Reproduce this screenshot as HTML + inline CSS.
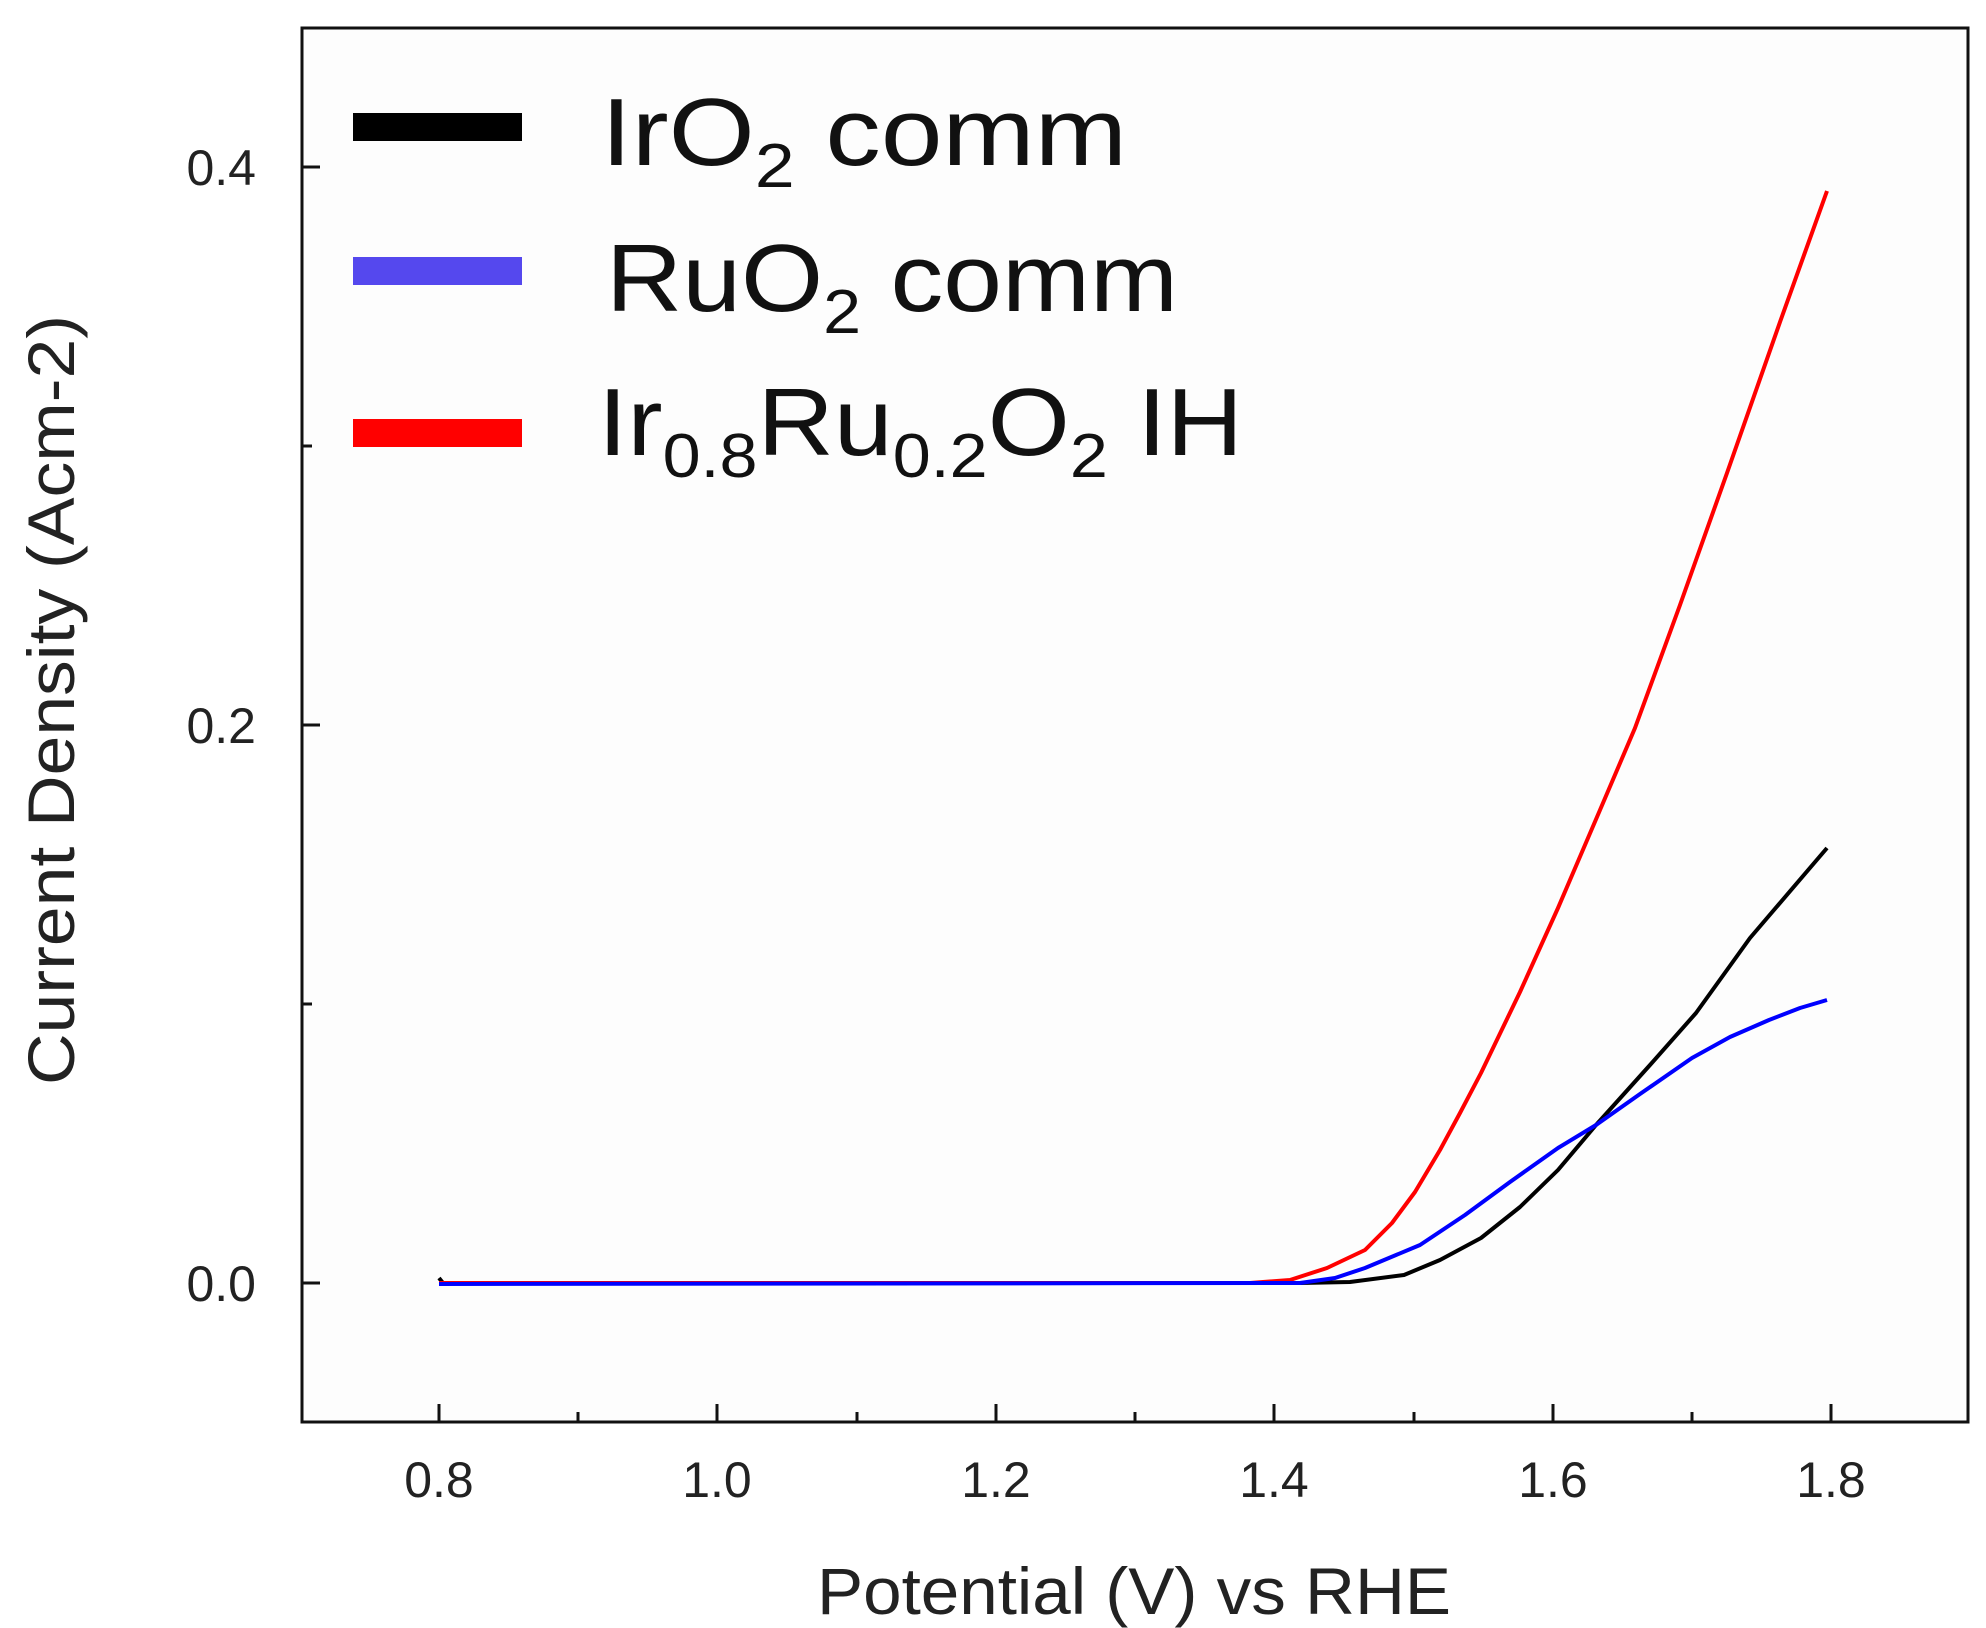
<!DOCTYPE html>
<html><head><style>body{margin:0;background:#fff}svg{display:block}</style></head><body>
<svg width="1986" height="1628" viewBox="0 0 1986 1628" xmlns="http://www.w3.org/2000/svg" font-family="Liberation Sans, sans-serif">
<rect width="1986" height="1628" fill="#fff"/>
<rect x="302" y="28" width="1666" height="1394" fill="#fdfdfd" stroke="#111" stroke-width="3"/>
<g stroke="#111" stroke-width="3">
<line x1="439" y1="1422" x2="439" y2="1404"/><line x1="717" y1="1422" x2="717" y2="1404"/><line x1="996" y1="1422" x2="996" y2="1404"/><line x1="1274" y1="1422" x2="1274" y2="1404"/><line x1="1553" y1="1422" x2="1553" y2="1404"/><line x1="1831" y1="1422" x2="1831" y2="1404"/>
<line x1="578" y1="1422" x2="578" y2="1412"/><line x1="857" y1="1422" x2="857" y2="1412"/><line x1="1135" y1="1422" x2="1135" y2="1412"/><line x1="1414" y1="1422" x2="1414" y2="1412"/><line x1="1692" y1="1422" x2="1692" y2="1412"/>
<line x1="302" y1="1283" x2="320" y2="1283"/><line x1="302" y1="725" x2="320" y2="725"/><line x1="302" y1="167" x2="320" y2="167"/>
<line x1="302" y1="1004" x2="312" y2="1004"/><line x1="302" y1="446" x2="312" y2="446"/>
</g>
<g font-size="50" fill="#222" text-anchor="end">
<text x="256" y="1301">0.0</text><text x="256" y="743">0.2</text><text x="256" y="185">0.4</text>
</g>
<g font-size="50" fill="#222" text-anchor="middle">
<text x="439" y="1497">0.8</text><text x="717" y="1497">1.0</text><text x="996" y="1497">1.2</text><text x="1274" y="1497">1.4</text><text x="1553" y="1497">1.6</text><text x="1831" y="1497">1.8</text>
</g>
<text x="1134" y="1614" font-size="66" fill="#222" text-anchor="middle" textLength="634" lengthAdjust="spacingAndGlyphs">Potential (V) vs RHE</text>
<text transform="translate(74,700) rotate(-90)" font-size="66" fill="#222" text-anchor="middle" textLength="770" lengthAdjust="spacingAndGlyphs">Current Density (Acm-2)</text>
<g fill="none" stroke-width="4" stroke-linejoin="round">
<path stroke="#000" d="M439,1278 L443,1283 L1300,1283 L1350,1282 L1404,1275 L1440,1260 L1481,1238 L1520,1207 L1558,1170 L1596,1125 L1650,1065 L1696,1013 L1750,938 L1827,848"/>
<path stroke="#f00" d="M439,1283 L1250,1283 L1290,1280 L1327,1268 L1365,1250 L1392,1223 L1415,1192 L1440,1150 L1460,1113 L1481,1073 L1520,992 L1558,908 L1600,810 L1635,728 L1680,605 L1727,473 L1780,322 L1827,191"/>
<path stroke="#00f" d="M439,1284 L1300,1283 L1335,1278 L1365,1268 L1420,1245 L1465,1215 L1510,1182 L1558,1148 L1596,1125 L1640,1094 L1692,1058 L1730,1037 L1769,1020 L1800,1008 L1827,1000"/>
</g>
<g stroke-width="28">
<line x1="353" y1="127" x2="522" y2="127" stroke="#000"/>
<line x1="353" y1="271" x2="522" y2="271" stroke="#5548ee"/>
<line x1="353" y1="433" x2="522" y2="433" stroke="#f00"/>
</g>
<g font-size="96" fill="#111">
<text x="601" y="165" textLength="526" lengthAdjust="spacingAndGlyphs">IrO<tspan font-size="62" dy="22">2</tspan><tspan dy="-22"> comm</tspan></text>
<text x="606" y="311" textLength="572" lengthAdjust="spacingAndGlyphs">RuO<tspan font-size="62" dy="22">2</tspan><tspan dy="-22"> comm</tspan></text>
<text x="598" y="455" textLength="645" lengthAdjust="spacingAndGlyphs">Ir<tspan font-size="62" dy="22">0.8</tspan><tspan dy="-22">Ru</tspan><tspan font-size="62" dy="22">0.2</tspan><tspan dy="-22">O</tspan><tspan font-size="62" dy="22">2</tspan><tspan dy="-22"> IH</tspan></text>
</g>
</svg>
</body></html>
